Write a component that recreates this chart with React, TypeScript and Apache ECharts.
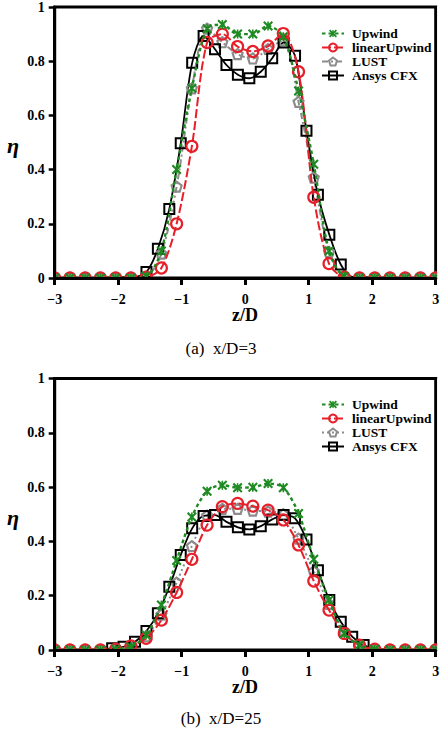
import React, { useEffect, useRef } from "react";
import * as echarts from "echarts";

// Shared sampling positions (z/D) of the OpenFOAM schemes
const zSchemes = [
  -3, -2.76, -2.52, -2.28, -2.04, -1.8, -1.56, -1.32, -1.08, -0.84, -0.6, -0.36, -0.12,
  0.12, 0.36, 0.6, 0.84, 1.08, 1.32, 1.56, 1.8, 2.04, 2.28, 2.52, 2.76, 3,
];

// (a) x/D = 3
const upwindA = [
  0, 0, 0, 0, 0, 0, 0.006, 0.1, 0.4, 0.7, 0.92, 0.935, 0.9,
  0.9, 0.93, 0.89, 0.69, 0.42, 0.1, 0.006, 0, 0, 0, 0, 0, 0,
];
const linearUpwindA = [
  0, 0, 0, 0, 0, 0, 0.003, 0.037, 0.2, 0.486, 0.869, 0.9, 0.854,
  0.836, 0.856, 0.902, 0.761, 0.298, 0.053, 0.003, 0, 0, 0, 0, 0, 0,
];
const lustA = [
  0, 0, 0, 0, 0, 0, 0.005, 0.09, 0.337, 0.7, 0.92, 0.87, 0.826,
  0.81, 0.845, 0.877, 0.65, 0.37, 0.096, 0.005, 0, 0, 0, 0, 0, 0,
];
const zCfxA = [
  -1.555, -1.375, -1.195, -1.015, -0.835, -0.655, -0.475, -0.295, -0.115,
  0.065, 0.245, 0.425, 0.605, 0.785, 0.965, 1.145, 1.325, 1.505,
];
const cfxA = [
  0.022, 0.108, 0.255, 0.497, 0.794, 0.893, 0.844, 0.786, 0.75,
  0.737, 0.761, 0.811, 0.869, 0.82, 0.543, 0.307, 0.16, 0.05,
];
// CFX curve continues along the baseline without markers
const zCfxTailA = [-3, -1.735, 1.685, 3];
const cfxTailA = [0, 0.004, 0.004, 0];

// (b) x/D = 25
const upwindB = [
  0, 0, 0, 0, 0.003, 0.012, 0.055, 0.166, 0.33, 0.49, 0.585, 0.607, 0.598,
  0.599, 0.613, 0.598, 0.503, 0.334, 0.184, 0.061, 0.018, 0.003, 0, 0, 0, 0,
];
const linearUpwindB = [
  0, 0, 0, 0, 0.003, 0.015, 0.043, 0.11, 0.212, 0.334, 0.46, 0.528, 0.54,
  0.53, 0.515, 0.479, 0.387, 0.254, 0.147, 0.061, 0.018, 0.003, 0, 0, 0, 0,
];
const lustB = [
  0, 0, 0, 0, 0.002, 0.01, 0.05, 0.13, 0.248, 0.383, 0.495, 0.52, 0.52,
  0.513, 0.51, 0.5, 0.41, 0.29, 0.17, 0.07, 0.015, 0.002, 0, 0, 0, 0,
];
const zCfxB = [
  -2.095, -1.915, -1.735, -1.555, -1.375, -1.195, -1.015, -0.835, -0.655, -0.475, -0.295, -0.115,
  0.065, 0.245, 0.425, 0.605, 0.785, 0.965, 1.145, 1.325, 1.505, 1.685, 1.865,
];
const cfxB = [
  0.006, 0.012, 0.03, 0.07, 0.135, 0.233, 0.35, 0.448, 0.494, 0.497, 0.472, 0.452,
  0.444, 0.456, 0.481, 0.497, 0.485, 0.407, 0.294, 0.184, 0.104, 0.049, 0.018,
];
const zCfxTailB = [-3, -2.3, 2.1, 3];
const cfxTailB = [0, 0.001, 0.002, 0];

const xTicks = [-3, -2, -1, 0, 1, 2, 3];
const yTicks = [0, 0.2, 0.4, 0.6, 0.8, 1];
const schemeNames = ["Upwind", "linearUpwind", "LUST", "Ansys CFX"];
const captions = ["(a)  x/D=3", "(b)  x/D=25"];

const GREEN = "#1f8a22";
const RED = "#e5202a";
const GRAY = "#8c8c8c";
const BLACK = "#000000";
const SERIF = "'Liberation Serif', 'Times New Roman', serif";

const STAR =
  "path://M1.5,0 L10,8.5 L8.5,10 L0,1.5 Z M8.5,0 L10,1.5 L1.5,10 L0,8.5 Z M4.2,0.5 L5.8,0.5 L5.8,9.5 L4.2,9.5 Z";
const PENTAGON = "path://M5,0 L10,3.8 L8.1,10 L1.9,10 L0,3.8 Z";

const PANEL_TOP = [6.5, 378.5];
const PANEL_H = 271.5;
const PANEL_LEFT = 54.7;
const PANEL_W = 381;

function pairs(xs: number[], ys: number[]) {
  return xs.map((x, i) => [x, ys[i]]);
}

function cfxData(xs: number[], ys: number[], tx: number[], ty: number[]) {
  const marked = xs.map((x, i) => ({ value: [x, ys[i]] }));
  const tail = tx.map((x, i) => ({ value: [x, ty[i]], symbol: "none" }));
  return [...marked, ...tail].sort((a, b) => a.value[0] - b.value[0]);
}

const minus = (v: number) => (v < 0 ? "\u2212" + Math.abs(v) : String(v));

export default function App() {
  const ref = useRef<HTMLDivElement>(null);

  useEffect(() => {
    if (!ref.current) return;
    const chart = echarts.init(ref.current, undefined, { renderer: "svg" });

    const suffix = ["", "\u00a0b"];
    const panelSeries = (p: number) => {
      const up = p === 0 ? upwindA : upwindB;
      const lin = p === 0 ? linearUpwindA : linearUpwindB;
      const lust = p === 0 ? lustA : lustB;
      const cfx =
        p === 0
          ? cfxData(zCfxA, cfxA, zCfxTailA, cfxTailA)
          : cfxData(zCfxB, cfxB, zCfxTailB, cfxTailB);
      const base = {
        type: "line",
        xAxisIndex: p,
        yAxisIndex: p,
        smooth: 0.3,
        clip: false,
        z: 2,
      };
      return [
        {
          ...base,
          name: schemeNames[0] + suffix[p],
          data: pairs(zSchemes, up),
          symbol: STAR,
          symbolSize: 10,
          itemStyle: { color: GREEN, borderWidth: 0 },
          lineStyle: { color: GREEN, width: 2.4, type: [3.5, 3] },
          z: 4,
        },
        {
          ...base,
          name: schemeNames[1] + suffix[p],
          data: pairs(zSchemes, lin),
          symbol: "circle",
          symbolSize: 11,
          itemStyle: { color: "transparent", borderColor: RED, borderWidth: 2.2 },
          lineStyle: { color: RED, width: 2, type: [9, 3] },
          z: 3,
        },
        {
          ...base,
          name: schemeNames[2] + suffix[p],
          data: pairs(zSchemes, lust),
          symbol: PENTAGON,
          symbolSize: 10,
          itemStyle: { color: "transparent", borderColor: GRAY, borderWidth: 2.2 },
          lineStyle: { color: GRAY, width: 2, type: p === 0 ? [6, 3, 2, 3] : [2, 3] },
          z: 2,
        },
        {
          ...base,
          name: schemeNames[3] + suffix[p],
          data: cfx,
          symbol: "rect",
          symbolSize: 10,
          itemStyle: { color: "transparent", borderColor: BLACK, borderWidth: 2 },
          lineStyle: { color: BLACK, width: 1.8, type: "solid" },
          z: 2,
        },
      ];
    };

    const axisText = { fontFamily: SERIF, fontWeight: "bold", fontSize: 14, color: BLACK };

    const graphic: any[] = [];
    [0, 1].forEach((p) => {
      const top = PANEL_TOP[p];
      const bottom = top + PANEL_H;
      // white bands hide the marker halves falling outside the frame
      graphic.push(
        { type: "rect", z: 5, silent: true, shape: { x: 30, y: bottom + 1.6, width: 413, height: 8 }, style: { fill: "#fff" } },
        { type: "rect", z: 5, silent: true, shape: { x: 44, y: top, width: PANEL_LEFT - 1.5 - 44, height: PANEL_H + 10 }, style: { fill: "#fff" } },
        { type: "rect", z: 5, silent: true, shape: { x: PANEL_LEFT + PANEL_W + 1.5, y: top, width: 10, height: PANEL_H + 10 }, style: { fill: "#fff" } },
        {
          type: "text",
          z: 20,
          x: 13,
          y: top + 139,
          style: {
            text: "\u03b7",
            font: `italic bold 22px ${SERIF}`,
            fill: BLACK,
            align: "center",
            verticalAlign: "middle",
          },
        },
        {
          type: "text",
          z: 20,
          x: 245,
          y: bottom + 37,
          style: {
            text: "z/D",
            font: `bold 18px ${SERIF}`,
            fill: BLACK,
            align: "center",
            verticalAlign: "middle",
          },
        },
        {
          type: "text",
          z: 20,
          x: 221,
          y: bottom + (p === 0 ? 70 : 68),
          style: {
            text: captions[p],
            font: `17px ${SERIF}`,
            fill: BLACK,
            align: "center",
            verticalAlign: "middle",
          },
        }
      );
    });

    const option: any = {
      animation: false,
      backgroundColor: "#fff",
      grid: [0, 1].map((p) => ({
        left: PANEL_LEFT,
        top: PANEL_TOP[p],
        width: PANEL_W,
        height: PANEL_H,
        show: true,
        borderColor: BLACK,
        borderWidth: 3,
        backgroundColor: "transparent",
      })),
      xAxis: [0, 1].map((p) => ({
        type: "value",
        gridIndex: p,
        min: xTicks[0],
        max: xTicks[xTicks.length - 1],
        interval: 1,
        z: 10,
        axisLine: { onZero: false, lineStyle: { color: BLACK, width: 3 } },
        axisTick: { inside: false, length: 7, lineStyle: { color: BLACK, width: 3 } },
        axisLabel: { ...axisText, margin: 14, formatter: (v: number) => minus(v) },
        splitLine: { show: false },
      })),
      yAxis: [0, 1].map((p) => ({
        type: "value",
        gridIndex: p,
        min: yTicks[0],
        max: yTicks[yTicks.length - 1],
        interval: 0.2,
        z: 10,
        axisLine: { onZero: false, lineStyle: { color: BLACK, width: 3 } },
        axisTick: { inside: false, length: 6, lineStyle: { color: BLACK, width: 2.5 } },
        axisLabel: { ...axisText, margin: 10, formatter: (v: number) => String(Math.round(v * 10) / 10) },
        splitLine: { show: false },
      })),
      legend: [0, 1].map((p) => ({
        orient: "vertical",
        left: 316,
        top: p === 0 ? 21.5 : 392.5,
        itemWidth: 22,
        itemHeight: 10,
        itemGap: 0,
        selectedMode: false,
        data: schemeNames.map((n) => n + suffix[p]),
        formatter: (n: string) => n.replace("\u00a0b", ""),
        textStyle: {
          fontFamily: SERIF,
          fontWeight: "bold",
          fontSize: 13.5,
          lineHeight: 13.5,
          color: BLACK,
          padding: [0, 0, 0, 3],
        },
      })),
      series: [...panelSeries(0), ...panelSeries(1)],
      graphic,
    };

    chart.setOption(option);
    return () => chart.dispose();
  }, []);

  return (
    <div
      ref={ref}
      style={{ position: "absolute", left: 0, top: 0, width: 443, height: 731, background: "#fff" }}
    />
  );
}
